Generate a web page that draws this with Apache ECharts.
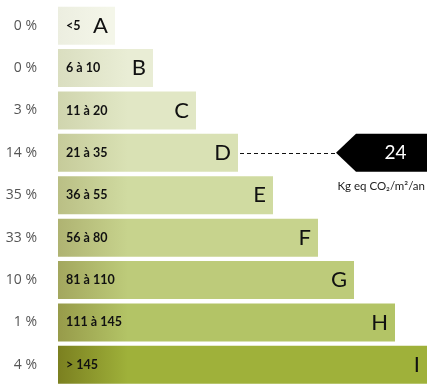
<!DOCTYPE html>
<html>
<head>
<meta charset="utf-8">
<script src="https://cdn.jsdelivr.net/npm/echarts@6/dist/echarts.min.js"></script>
<style>
  html, body { margin: 0; padding: 0; background: #fff; }
  #chart { width: 427px; height: 386px; }
</style>
</head>
<body>
<div id="chart"></div>
<script>
// classes GES
const grades = ['A', 'B', 'C', 'D', 'E', 'F', 'G', 'H', 'I'];
const ranges = ['<5', '6 à 10', '11 à 20', '21 à 35', '36 à 55', '56 à 80', '81 à 110', '111 à 145', '> 145'];
const shares = ['0 %', '0 %', '3 %', '14 %', '35 %', '33 %', '10 %', '1 %', '4 %'];
const barLengths = [57, 95, 138, 180, 215, 260, 296, 337, 369];
const mainColors = ['#f4f6e9', '#e9edd5', '#e1e7c5', '#d9e1b4', '#d0dba1', '#c7d38d', '#bdcb7a', '#b3c466', '#9fb13a'];
const darkColors = ['#eceee0', '#dadec0', '#d0d5ae', '#c6cb9a', '#babf85', '#afb372', '#a3a75e', '#979b4a', '#7b8020'];
const myValue = 24;
const myGrade = 'D';
const unitLabel = 'Kg eq CO₂/m²/an';

let chart = echarts.init(document.getElementById('chart'));

let option = {
    animation: false,
    backgroundColor: '#fff',
    grid: { left: 58, right: 0, top: 4.5, height: 386 },
    xAxis: { type: 'value', min: 0, max: 369, show: false },
    yAxis: {
        type: 'category',
        data: grades,
        inverse: true,
        axisLine: { show: false },
        axisTick: { show: false },
        splitLine: { show: false },
        axisLabel: {
            margin: 21,
            color: '#555',
            fontFamily: 'Open Sans',
            fontSize: 14,
            padding: [0, 0, 10, 0],
            formatter: (v, i) => shares[i]
        }
    },
    series: [
        {
            type: 'bar',
            barWidth: 38,
            data: barLengths.map((v, i) => ({
                value: v,
                itemStyle: {
                    color: new echarts.graphic.LinearGradient(0, 0, 1, 0, [
                        { offset: 0, color: darkColors[i] },
                        { offset: Math.min(0.9, 70 / v), color: mainColors[i] },
                        { offset: 1, color: mainColors[i] }
                    ])
                }
            })),
            label: {
                show: true,
                position: 'insideRight',
                distance: 7,
                color: '#111',
                fontFamily: 'Lato',
                fontSize: 22,
                formatter: p => grades[p.dataIndex]
            },
            markLine: {
                silent: true,
                symbol: 'none',
                label: { show: false },
                lineStyle: { color: '#111', type: [4, 3], width: 1 },
                data: [[{ coord: [barLengths[grades.indexOf(myGrade)] + 2, myGrade] }, { coord: [278, myGrade] }]]
            },
            markPoint: {
                silent: true,
                symbol: 'path://M0,19 L20,0 L91,0 L91,38 L20,38 Z',
                symbolSize: [91, 38],
                itemStyle: { color: '#000' },
                label: {
                    show: true,
                    color: '#fff',
                    fontFamily: 'Lato',
                    fontSize: 19,
                    offset: [14, 0],
                    formatter: String(myValue)
                },
                data: [{ coord: [323.5, myGrade] }]
            },
            z: 1
        },
        {
            type: 'bar',
            barWidth: 38,
            barGap: '-100%',
            data: barLengths,
            itemStyle: { color: 'rgba(0,0,0,0)' },
            label: {
                show: true,
                position: 'insideLeft',
                distance: 8,
                color: '#111',
                fontFamily: 'Lato',
                fontWeight: 'bold',
                fontSize: 12.5,
                formatter: p => ranges[p.dataIndex]
            },
            z: 2
        }
    ],
    graphic: [
        {
            type: 'text',
            right: 2,
            top: 180,
            style: { text: unitLabel, fill: '#222', font: '11.5px Lato' }
        }
    ]
};

chart.setOption(option);
</script>
</body>
</html>
